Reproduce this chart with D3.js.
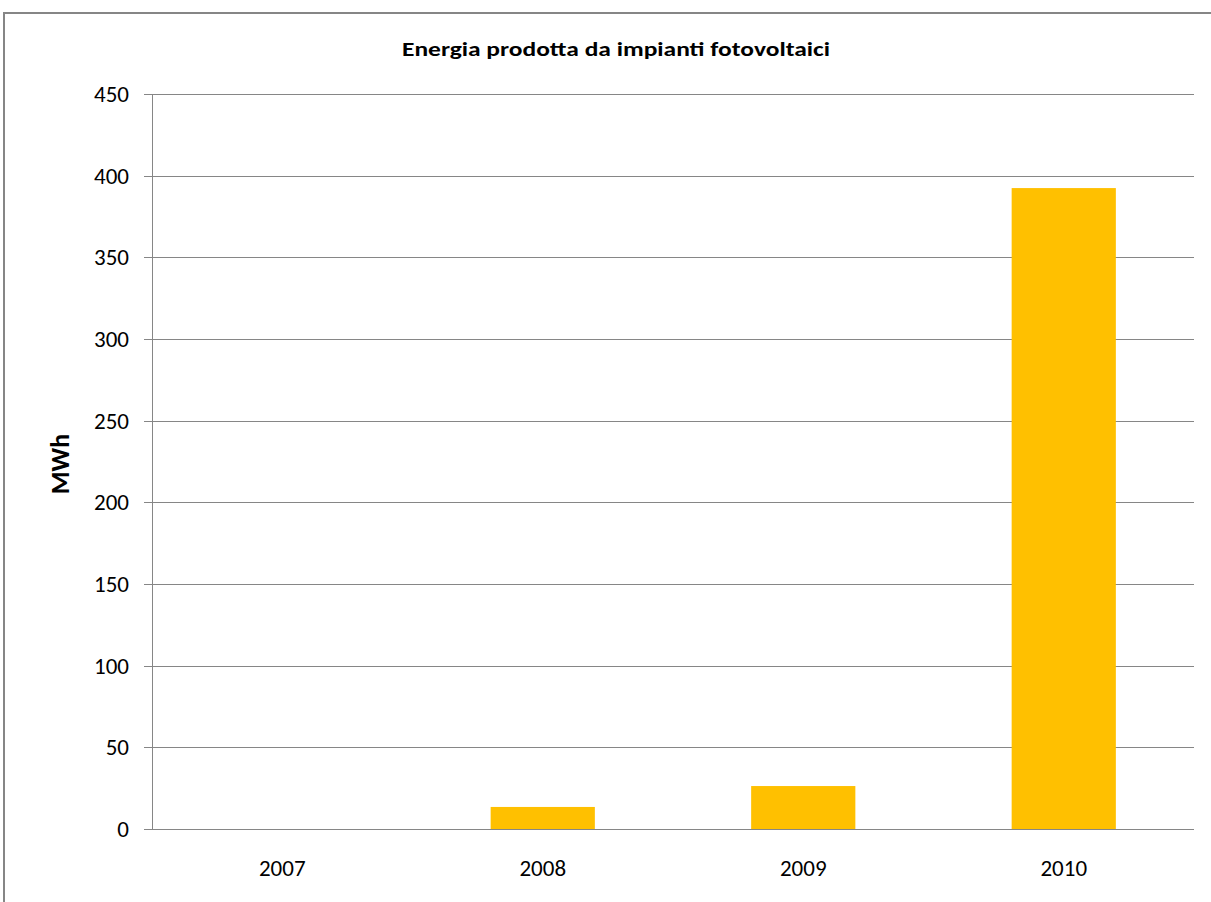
<!DOCTYPE html>
<html>
<head>
<meta charset="utf-8">
<script src="https://cdn.jsdelivr.net/npm/d3@7"></script>
<style>
  body { margin: 0; background: #fff; }
</style>
</head>
<body>
<div id="chart"></div>
<script>
const years = ['2007', '2008', '2009', '2010']
const energy = [0, 13.5, 26.3, 392.4]
const yTicks = [0, 50, 100, 150, 200, 250, 300, 350, 400, 450]

const W = 1211
const H = 902
const FONT = 'Carlito, Calibri, "Open Sans", sans-serif'

const svg = d3.select('#chart').append('svg').attr('width', W).attr('height', H)

svg.append('rect').attr('width', W).attr('height', H).attr('fill', '#ffffff')

// outer frame, runs off the right and bottom edges
svg
  .append('rect')
  .attr('x', 4)
  .attr('y', 13)
  .attr('width', W + 10)
  .attr('height', H + 10)
  .attr('fill', 'none')
  .attr('stroke', '#868686')
  .attr('stroke-width', 2)

const x = d3.scaleBand().domain(years).range([152, 1194]).paddingInner(0.6).paddingOuter(0.3)
const y = d3.scaleLinear().domain([0, 450]).range([829, 94])

// grid lines
svg
  .append('g')
  .selectAll('line')
  .data(yTicks)
  .join('line')
  .attr('x1', 144)
  .attr('x2', 1194)
  .attr('y1', (d) => Math.round(y(d)) + 0.5)
  .attr('y2', (d) => Math.round(y(d)) + 0.5)
  .attr('stroke', '#868686')
  .attr('stroke-width', 1)

svg
  .append('line')
  .attr('x1', 152.5)
  .attr('x2', 152.5)
  .attr('y1', y(450))
  .attr('y2', y(0))
  .attr('stroke', '#868686')

// bars
svg
  .append('g')
  .selectAll('rect')
  .data(energy)
  .join('rect')
  .attr('x', (d, i) => x(years[i]))
  .attr('width', x.bandwidth())
  .attr('y', (d) => y(d))
  .attr('height', (d) => y(0) - y(d))
  .attr('fill', '#ffc000')

// zero line drawn over bars
svg
  .append('line')
  .attr('x1', 144)
  .attr('x2', 1194)
  .attr('y1', Math.round(y(0)) + 0.5)
  .attr('y2', Math.round(y(0)) + 0.5)
  .attr('stroke', '#868686')

// y tick labels
svg
  .append('g')
  .selectAll('text')
  .data(yTicks)
  .join('text')
  .attr('x', 129)
  .attr('y', (d) => y(d))
  .attr('dy', '0.35em')
  .attr('text-anchor', 'end')
  .attr('fill', '#000')
  .attr('font-family', FONT)
  .attr('font-size', 23)
  .text((d) => d)

// x labels
svg
  .append('g')
  .selectAll('text')
  .data(years)
  .join('text')
  .attr('x', (d) => x(d) + x.bandwidth() / 2)
  .attr('y', 868)
  .attr('dy', '0.35em')
  .attr('text-anchor', 'middle')
  .attr('fill', '#000')
  .attr('font-family', FONT)
  .attr('font-size', 23)
  .text((d) => d)

svg
  .append('text')
  .attr('x', 616)
  .attr('y', 49)
  .attr('dy', '0.35em')
  .attr('text-anchor', 'middle')
  .attr('fill', '#000')
  .attr('font-family', FONT)
  .attr('font-size', 21)
  .attr('font-weight', 'bold')
  .attr('textLength', 428)
  .attr('lengthAdjust', 'spacingAndGlyphs')
  .text('Energia prodotta da impianti fotovoltaici')

svg
  .append('text')
  .attr('transform', 'translate(60 464) rotate(-90)')
  .attr('dy', '0.35em')
  .attr('text-anchor', 'middle')
  .attr('fill', '#000')
  .attr('font-family', FONT)
  .attr('font-size', 26)
  .attr('font-weight', 'bold')
  .text('MWh')
</script>
</body>
</html>
